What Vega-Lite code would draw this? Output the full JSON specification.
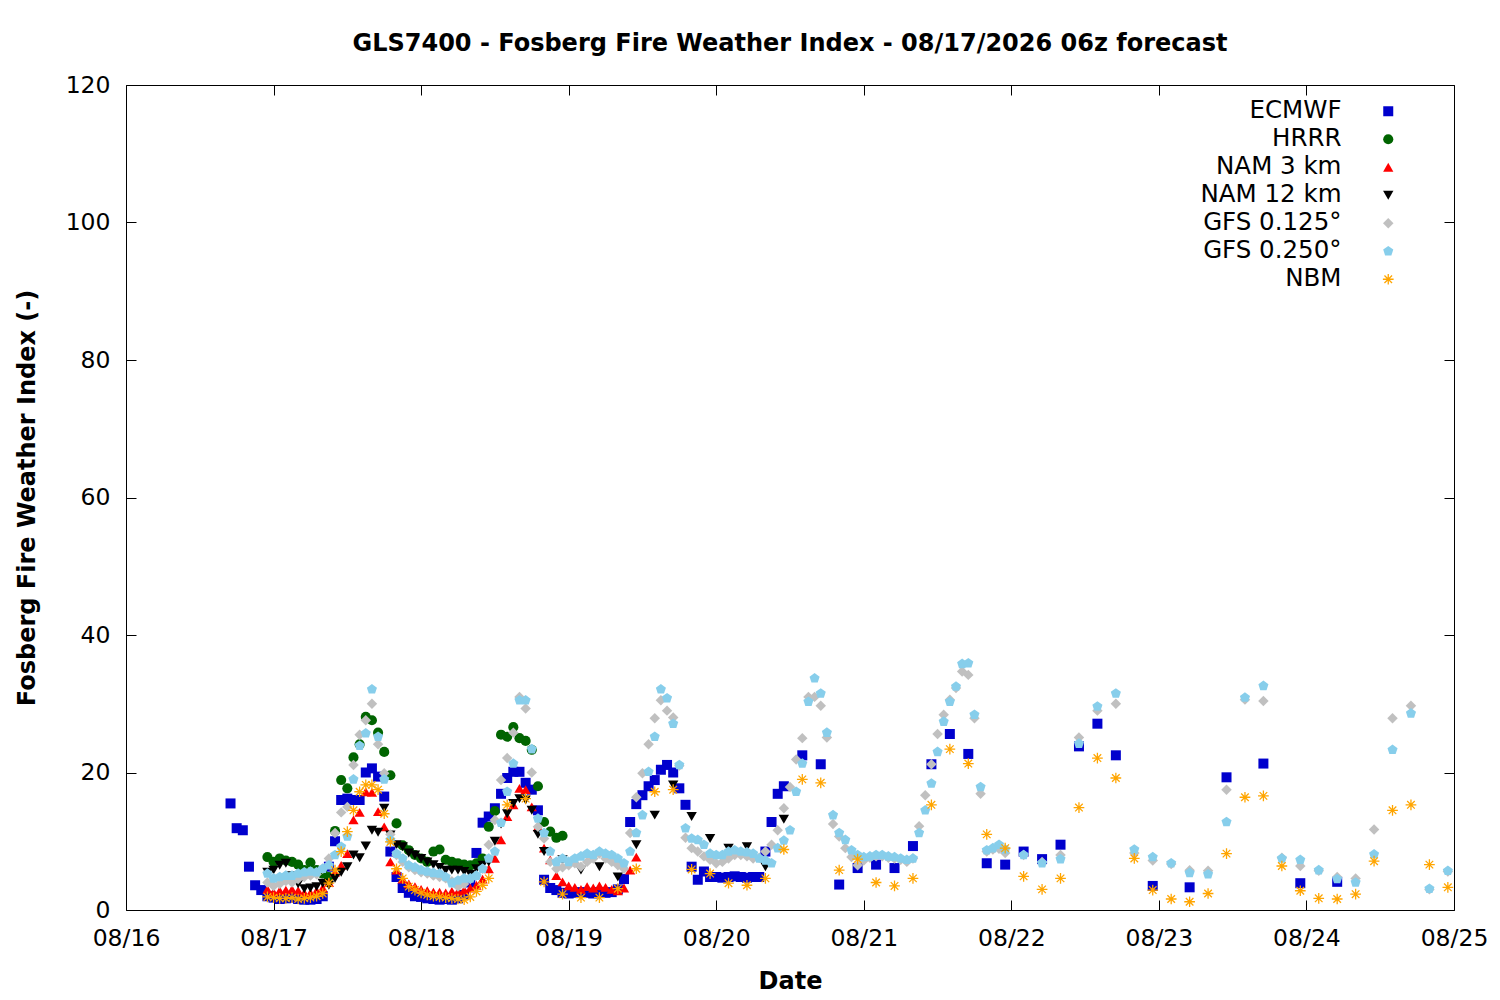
{
  "$schema": "https://vega.github.io/schema/vega-lite/v6.json",
  "width": 1328,
  "height": 825,
  "autosize": {"type": "none"},
  "padding": {"left": 126, "top": 85, "right": 46, "bottom": 90},
  "background": "white",
  "config": {
    "font": "DejaVu Sans",
    "view": {"stroke": "black", "strokeWidth": 1},
    "axis": {
      "domain": false,
      "grid": false,
      "tickColor": "black",
      "tickSize": -10,
      "labelColor": "black",
      "labelFontSize": 23.5,
      "titleColor": "black",
      "titleFontSize": 24,
      "titleFontWeight": "bold"
    },
    "legend": {
      "orient": "none",
      "legendX": 1250,
      "legendY": 14,
      "padding": 0,
      "labelFontSize": 24.5,
      "labelColor": "black",
      "labelAlign": "right",
      "labelOffset": -59,
      "labelLimit": 0,
      "symbolSize": 90,
      "rowPadding": 3
    }
  },
  "title": {
    "text": "GLS7400 - Fosberg Fire Weather Index - 08/17/2026 06z forecast",
    "fontSize": 24,
    "fontWeight": "bold",
    "color": "black",
    "anchor": "middle",
    "offset": 17
  },
  "resolve": {"axis": {"x": "independent", "y": "independent"}},
  "data": {
    "format": {"parse": {"time": "utc:'%Y-%m-%d %H'"}},
    "values": [
      {"model": "ECMWF", "time": "2026-08-16 17", "fwi": 15.5},
      {"model": "ECMWF", "time": "2026-08-16 18", "fwi": 11.9},
      {"model": "ECMWF", "time": "2026-08-16 19", "fwi": 11.6},
      {"model": "ECMWF", "time": "2026-08-16 20", "fwi": 6.3},
      {"model": "ECMWF", "time": "2026-08-16 21", "fwi": 3.6},
      {"model": "ECMWF", "time": "2026-08-16 22", "fwi": 2.9},
      {"model": "ECMWF", "time": "2026-08-16 23", "fwi": 2.0},
      {"model": "ECMWF", "time": "2026-08-17 00", "fwi": 1.8},
      {"model": "ECMWF", "time": "2026-08-17 01", "fwi": 1.6},
      {"model": "ECMWF", "time": "2026-08-17 02", "fwi": 1.7},
      {"model": "ECMWF", "time": "2026-08-17 03", "fwi": 1.8},
      {"model": "ECMWF", "time": "2026-08-17 04", "fwi": 1.6},
      {"model": "ECMWF", "time": "2026-08-17 05", "fwi": 1.5},
      {"model": "ECMWF", "time": "2026-08-17 06", "fwi": 1.5},
      {"model": "ECMWF", "time": "2026-08-17 07", "fwi": 1.6},
      {"model": "ECMWF", "time": "2026-08-17 08", "fwi": 2.0},
      {"model": "ECMWF", "time": "2026-08-17 09", "fwi": 6.3},
      {"model": "ECMWF", "time": "2026-08-17 10", "fwi": 10.0},
      {"model": "ECMWF", "time": "2026-08-17 11", "fwi": 16.0},
      {"model": "ECMWF", "time": "2026-08-17 12", "fwi": 16.2},
      {"model": "ECMWF", "time": "2026-08-17 13", "fwi": 16.0},
      {"model": "ECMWF", "time": "2026-08-17 14", "fwi": 16.0},
      {"model": "ECMWF", "time": "2026-08-17 15", "fwi": 20.0},
      {"model": "ECMWF", "time": "2026-08-17 16", "fwi": 20.6},
      {"model": "ECMWF", "time": "2026-08-17 17", "fwi": 19.4},
      {"model": "ECMWF", "time": "2026-08-17 18", "fwi": 16.5},
      {"model": "ECMWF", "time": "2026-08-17 19", "fwi": 8.5},
      {"model": "ECMWF", "time": "2026-08-17 20", "fwi": 4.8},
      {"model": "ECMWF", "time": "2026-08-17 21", "fwi": 3.2},
      {"model": "ECMWF", "time": "2026-08-17 22", "fwi": 2.5},
      {"model": "ECMWF", "time": "2026-08-17 23", "fwi": 2.0},
      {"model": "ECMWF", "time": "2026-08-18 00", "fwi": 1.9},
      {"model": "ECMWF", "time": "2026-08-18 01", "fwi": 1.7},
      {"model": "ECMWF", "time": "2026-08-18 02", "fwi": 1.6},
      {"model": "ECMWF", "time": "2026-08-18 03", "fwi": 1.5},
      {"model": "ECMWF", "time": "2026-08-18 04", "fwi": 1.6},
      {"model": "ECMWF", "time": "2026-08-18 05", "fwi": 1.5},
      {"model": "ECMWF", "time": "2026-08-18 06", "fwi": 1.7},
      {"model": "ECMWF", "time": "2026-08-18 07", "fwi": 2.2},
      {"model": "ECMWF", "time": "2026-08-18 08", "fwi": 4.0},
      {"model": "ECMWF", "time": "2026-08-18 09", "fwi": 8.3},
      {"model": "ECMWF", "time": "2026-08-18 10", "fwi": 12.7},
      {"model": "ECMWF", "time": "2026-08-18 11", "fwi": 13.6},
      {"model": "ECMWF", "time": "2026-08-18 12", "fwi": 14.8},
      {"model": "ECMWF", "time": "2026-08-18 13", "fwi": 16.9},
      {"model": "ECMWF", "time": "2026-08-18 14", "fwi": 19.2},
      {"model": "ECMWF", "time": "2026-08-18 15", "fwi": 20.1},
      {"model": "ECMWF", "time": "2026-08-18 16", "fwi": 20.1},
      {"model": "ECMWF", "time": "2026-08-18 17", "fwi": 18.5},
      {"model": "ECMWF", "time": "2026-08-18 18", "fwi": 17.5},
      {"model": "ECMWF", "time": "2026-08-18 19", "fwi": 14.5},
      {"model": "ECMWF", "time": "2026-08-18 20", "fwi": 4.4},
      {"model": "ECMWF", "time": "2026-08-18 21", "fwi": 3.2},
      {"model": "ECMWF", "time": "2026-08-18 22", "fwi": 2.9},
      {"model": "ECMWF", "time": "2026-08-18 23", "fwi": 2.5},
      {"model": "ECMWF", "time": "2026-08-19 00", "fwi": 2.4},
      {"model": "ECMWF", "time": "2026-08-19 01", "fwi": 2.5},
      {"model": "ECMWF", "time": "2026-08-19 02", "fwi": 2.6},
      {"model": "ECMWF", "time": "2026-08-19 03", "fwi": 2.5},
      {"model": "ECMWF", "time": "2026-08-19 04", "fwi": 2.4},
      {"model": "ECMWF", "time": "2026-08-19 05", "fwi": 2.6},
      {"model": "ECMWF", "time": "2026-08-19 06", "fwi": 2.5},
      {"model": "ECMWF", "time": "2026-08-19 07", "fwi": 2.6},
      {"model": "ECMWF", "time": "2026-08-19 08", "fwi": 3.0},
      {"model": "ECMWF", "time": "2026-08-19 09", "fwi": 4.5},
      {"model": "ECMWF", "time": "2026-08-19 10", "fwi": 12.8},
      {"model": "ECMWF", "time": "2026-08-19 11", "fwi": 15.4},
      {"model": "ECMWF", "time": "2026-08-19 12", "fwi": 16.7},
      {"model": "ECMWF", "time": "2026-08-19 13", "fwi": 18.0},
      {"model": "ECMWF", "time": "2026-08-19 14", "fwi": 18.9},
      {"model": "ECMWF", "time": "2026-08-19 15", "fwi": 20.4},
      {"model": "ECMWF", "time": "2026-08-19 16", "fwi": 21.1},
      {"model": "ECMWF", "time": "2026-08-19 17", "fwi": 20.0},
      {"model": "ECMWF", "time": "2026-08-19 18", "fwi": 17.7},
      {"model": "ECMWF", "time": "2026-08-19 19", "fwi": 15.3},
      {"model": "ECMWF", "time": "2026-08-19 20", "fwi": 6.3},
      {"model": "ECMWF", "time": "2026-08-19 21", "fwi": 4.4},
      {"model": "ECMWF", "time": "2026-08-19 22", "fwi": 5.6},
      {"model": "ECMWF", "time": "2026-08-19 23", "fwi": 4.8},
      {"model": "ECMWF", "time": "2026-08-20 00", "fwi": 4.8},
      {"model": "ECMWF", "time": "2026-08-20 01", "fwi": 4.7},
      {"model": "ECMWF", "time": "2026-08-20 02", "fwi": 4.8},
      {"model": "ECMWF", "time": "2026-08-20 03", "fwi": 4.9},
      {"model": "ECMWF", "time": "2026-08-20 04", "fwi": 4.8},
      {"model": "ECMWF", "time": "2026-08-20 05", "fwi": 4.7},
      {"model": "ECMWF", "time": "2026-08-20 06", "fwi": 4.8},
      {"model": "ECMWF", "time": "2026-08-20 07", "fwi": 4.8},
      {"model": "ECMWF", "time": "2026-08-20 08", "fwi": 8.5},
      {"model": "ECMWF", "time": "2026-08-20 09", "fwi": 12.8},
      {"model": "ECMWF", "time": "2026-08-20 10", "fwi": 16.9},
      {"model": "ECMWF", "time": "2026-08-20 11", "fwi": 18.0},
      {"model": "ECMWF", "time": "2026-08-20 14", "fwi": 22.5},
      {"model": "ECMWF", "time": "2026-08-20 17", "fwi": 21.2},
      {"model": "ECMWF", "time": "2026-08-20 20", "fwi": 3.7},
      {"model": "ECMWF", "time": "2026-08-20 23", "fwi": 6.1},
      {"model": "ECMWF", "time": "2026-08-21 02", "fwi": 6.6},
      {"model": "ECMWF", "time": "2026-08-21 05", "fwi": 6.1},
      {"model": "ECMWF", "time": "2026-08-21 08", "fwi": 9.3},
      {"model": "ECMWF", "time": "2026-08-21 11", "fwi": 21.2},
      {"model": "ECMWF", "time": "2026-08-21 14", "fwi": 25.6},
      {"model": "ECMWF", "time": "2026-08-21 17", "fwi": 22.7},
      {"model": "ECMWF", "time": "2026-08-21 20", "fwi": 6.8},
      {"model": "ECMWF", "time": "2026-08-21 23", "fwi": 6.6},
      {"model": "ECMWF", "time": "2026-08-22 02", "fwi": 8.5},
      {"model": "ECMWF", "time": "2026-08-22 05", "fwi": 7.4},
      {"model": "ECMWF", "time": "2026-08-22 08", "fwi": 9.5},
      {"model": "ECMWF", "time": "2026-08-22 11", "fwi": 23.8},
      {"model": "ECMWF", "time": "2026-08-22 14", "fwi": 27.1},
      {"model": "ECMWF", "time": "2026-08-22 17", "fwi": 22.5},
      {"model": "ECMWF", "time": "2026-08-22 23", "fwi": 3.5},
      {"model": "ECMWF", "time": "2026-08-23 05", "fwi": 3.3},
      {"model": "ECMWF", "time": "2026-08-23 11", "fwi": 19.3},
      {"model": "ECMWF", "time": "2026-08-23 17", "fwi": 21.3},
      {"model": "ECMWF", "time": "2026-08-23 23", "fwi": 3.9},
      {"model": "ECMWF", "time": "2026-08-24 05", "fwi": 4.1},

      {"model": "HRRR", "time": "2026-08-16 23", "fwi": 7.7},
      {"model": "HRRR", "time": "2026-08-17 00", "fwi": 7.0},
      {"model": "HRRR", "time": "2026-08-17 01", "fwi": 7.5},
      {"model": "HRRR", "time": "2026-08-17 02", "fwi": 7.2},
      {"model": "HRRR", "time": "2026-08-17 03", "fwi": 7.0},
      {"model": "HRRR", "time": "2026-08-17 04", "fwi": 6.6},
      {"model": "HRRR", "time": "2026-08-17 05", "fwi": 5.8},
      {"model": "HRRR", "time": "2026-08-17 06", "fwi": 6.9},
      {"model": "HRRR", "time": "2026-08-17 07", "fwi": 5.8},
      {"model": "HRRR", "time": "2026-08-17 08", "fwi": 5.3},
      {"model": "HRRR", "time": "2026-08-17 09", "fwi": 4.8},
      {"model": "HRRR", "time": "2026-08-17 10", "fwi": 11.5},
      {"model": "HRRR", "time": "2026-08-17 11", "fwi": 18.9},
      {"model": "HRRR", "time": "2026-08-17 12", "fwi": 17.7},
      {"model": "HRRR", "time": "2026-08-17 13", "fwi": 22.2},
      {"model": "HRRR", "time": "2026-08-17 14", "fwi": 24.1},
      {"model": "HRRR", "time": "2026-08-17 15", "fwi": 28.1},
      {"model": "HRRR", "time": "2026-08-17 16", "fwi": 27.6},
      {"model": "HRRR", "time": "2026-08-17 17", "fwi": 25.8},
      {"model": "HRRR", "time": "2026-08-17 18", "fwi": 23.0},
      {"model": "HRRR", "time": "2026-08-17 19", "fwi": 19.6},
      {"model": "HRRR", "time": "2026-08-17 20", "fwi": 12.6},
      {"model": "HRRR", "time": "2026-08-17 21", "fwi": 9.4},
      {"model": "HRRR", "time": "2026-08-17 22", "fwi": 8.7},
      {"model": "HRRR", "time": "2026-08-17 23", "fwi": 8.0},
      {"model": "HRRR", "time": "2026-08-18 00", "fwi": 7.5},
      {"model": "HRRR", "time": "2026-08-18 01", "fwi": 7.0},
      {"model": "HRRR", "time": "2026-08-18 02", "fwi": 8.5},
      {"model": "HRRR", "time": "2026-08-18 03", "fwi": 8.8},
      {"model": "HRRR", "time": "2026-08-18 04", "fwi": 7.3},
      {"model": "HRRR", "time": "2026-08-18 05", "fwi": 7.0},
      {"model": "HRRR", "time": "2026-08-18 06", "fwi": 6.8},
      {"model": "HRRR", "time": "2026-08-18 07", "fwi": 6.6},
      {"model": "HRRR", "time": "2026-08-18 08", "fwi": 6.5},
      {"model": "HRRR", "time": "2026-08-18 09", "fwi": 6.8},
      {"model": "HRRR", "time": "2026-08-18 10", "fwi": 7.5},
      {"model": "HRRR", "time": "2026-08-18 11", "fwi": 12.1},
      {"model": "HRRR", "time": "2026-08-18 12", "fwi": 14.4},
      {"model": "HRRR", "time": "2026-08-18 13", "fwi": 25.5},
      {"model": "HRRR", "time": "2026-08-18 14", "fwi": 25.2},
      {"model": "HRRR", "time": "2026-08-18 15", "fwi": 26.6},
      {"model": "HRRR", "time": "2026-08-18 16", "fwi": 25.0},
      {"model": "HRRR", "time": "2026-08-18 17", "fwi": 24.6},
      {"model": "HRRR", "time": "2026-08-18 18", "fwi": 23.3},
      {"model": "HRRR", "time": "2026-08-18 19", "fwi": 18.0},
      {"model": "HRRR", "time": "2026-08-18 20", "fwi": 12.8},
      {"model": "HRRR", "time": "2026-08-18 21", "fwi": 11.4},
      {"model": "HRRR", "time": "2026-08-18 22", "fwi": 10.5},
      {"model": "HRRR", "time": "2026-08-18 23", "fwi": 10.8},

      {"model": "NAM 3 km", "time": "2026-08-16 23", "fwi": 3.0},
      {"model": "NAM 3 km", "time": "2026-08-17 00", "fwi": 2.6},
      {"model": "NAM 3 km", "time": "2026-08-17 01", "fwi": 2.8},
      {"model": "NAM 3 km", "time": "2026-08-17 02", "fwi": 2.9},
      {"model": "NAM 3 km", "time": "2026-08-17 03", "fwi": 3.0},
      {"model": "NAM 3 km", "time": "2026-08-17 04", "fwi": 2.8},
      {"model": "NAM 3 km", "time": "2026-08-17 05", "fwi": 2.5},
      {"model": "NAM 3 km", "time": "2026-08-17 06", "fwi": 2.5},
      {"model": "NAM 3 km", "time": "2026-08-17 07", "fwi": 2.8},
      {"model": "NAM 3 km", "time": "2026-08-17 08", "fwi": 3.2},
      {"model": "NAM 3 km", "time": "2026-08-17 09", "fwi": 4.0},
      {"model": "NAM 3 km", "time": "2026-08-17 10", "fwi": 5.5},
      {"model": "NAM 3 km", "time": "2026-08-17 11", "fwi": 6.5},
      {"model": "NAM 3 km", "time": "2026-08-17 12", "fwi": 8.2},
      {"model": "NAM 3 km", "time": "2026-08-17 13", "fwi": 13.1},
      {"model": "NAM 3 km", "time": "2026-08-17 14", "fwi": 14.2},
      {"model": "NAM 3 km", "time": "2026-08-17 15", "fwi": 17.2},
      {"model": "NAM 3 km", "time": "2026-08-17 16", "fwi": 17.1},
      {"model": "NAM 3 km", "time": "2026-08-17 17", "fwi": 14.3},
      {"model": "NAM 3 km", "time": "2026-08-17 18", "fwi": 12.1},
      {"model": "NAM 3 km", "time": "2026-08-17 19", "fwi": 7.0},
      {"model": "NAM 3 km", "time": "2026-08-17 20", "fwi": 5.8},
      {"model": "NAM 3 km", "time": "2026-08-17 21", "fwi": 4.5},
      {"model": "NAM 3 km", "time": "2026-08-17 22", "fwi": 3.8},
      {"model": "NAM 3 km", "time": "2026-08-17 23", "fwi": 3.4},
      {"model": "NAM 3 km", "time": "2026-08-18 00", "fwi": 3.0},
      {"model": "NAM 3 km", "time": "2026-08-18 01", "fwi": 2.8},
      {"model": "NAM 3 km", "time": "2026-08-18 02", "fwi": 2.6},
      {"model": "NAM 3 km", "time": "2026-08-18 03", "fwi": 2.6},
      {"model": "NAM 3 km", "time": "2026-08-18 04", "fwi": 2.5},
      {"model": "NAM 3 km", "time": "2026-08-18 05", "fwi": 2.7},
      {"model": "NAM 3 km", "time": "2026-08-18 06", "fwi": 2.7},
      {"model": "NAM 3 km", "time": "2026-08-18 07", "fwi": 2.9},
      {"model": "NAM 3 km", "time": "2026-08-18 08", "fwi": 3.2},
      {"model": "NAM 3 km", "time": "2026-08-18 09", "fwi": 3.6},
      {"model": "NAM 3 km", "time": "2026-08-18 10", "fwi": 4.5},
      {"model": "NAM 3 km", "time": "2026-08-18 11", "fwi": 6.0},
      {"model": "NAM 3 km", "time": "2026-08-18 12", "fwi": 7.5},
      {"model": "NAM 3 km", "time": "2026-08-18 13", "fwi": 10.2},
      {"model": "NAM 3 km", "time": "2026-08-18 14", "fwi": 13.6},
      {"model": "NAM 3 km", "time": "2026-08-18 15", "fwi": 15.3},
      {"model": "NAM 3 km", "time": "2026-08-18 16", "fwi": 17.7},
      {"model": "NAM 3 km", "time": "2026-08-18 17", "fwi": 17.5},
      {"model": "NAM 3 km", "time": "2026-08-18 18", "fwi": 15.0},
      {"model": "NAM 3 km", "time": "2026-08-18 19", "fwi": 12.1},
      {"model": "NAM 3 km", "time": "2026-08-18 20", "fwi": 9.0},
      {"model": "NAM 3 km", "time": "2026-08-18 21", "fwi": 7.3},
      {"model": "NAM 3 km", "time": "2026-08-18 22", "fwi": 5.0},
      {"model": "NAM 3 km", "time": "2026-08-18 23", "fwi": 4.1},
      {"model": "NAM 3 km", "time": "2026-08-19 00", "fwi": 3.5},
      {"model": "NAM 3 km", "time": "2026-08-19 01", "fwi": 3.3},
      {"model": "NAM 3 km", "time": "2026-08-19 02", "fwi": 3.0},
      {"model": "NAM 3 km", "time": "2026-08-19 03", "fwi": 3.4},
      {"model": "NAM 3 km", "time": "2026-08-19 04", "fwi": 3.2},
      {"model": "NAM 3 km", "time": "2026-08-19 05", "fwi": 3.5},
      {"model": "NAM 3 km", "time": "2026-08-19 06", "fwi": 3.3},
      {"model": "NAM 3 km", "time": "2026-08-19 07", "fwi": 3.0},
      {"model": "NAM 3 km", "time": "2026-08-19 08", "fwi": 2.8},
      {"model": "NAM 3 km", "time": "2026-08-19 09", "fwi": 3.2},
      {"model": "NAM 3 km", "time": "2026-08-19 10", "fwi": 5.8},
      {"model": "NAM 3 km", "time": "2026-08-19 11", "fwi": 7.7},

      {"model": "NAM 12 km", "time": "2026-08-16 23", "fwi": 5.5},
      {"model": "NAM 12 km", "time": "2026-08-17 00", "fwi": 5.8},
      {"model": "NAM 12 km", "time": "2026-08-17 01", "fwi": 6.5},
      {"model": "NAM 12 km", "time": "2026-08-17 02", "fwi": 6.8},
      {"model": "NAM 12 km", "time": "2026-08-17 03", "fwi": 5.0},
      {"model": "NAM 12 km", "time": "2026-08-17 04", "fwi": 3.8},
      {"model": "NAM 12 km", "time": "2026-08-17 05", "fwi": 3.1},
      {"model": "NAM 12 km", "time": "2026-08-17 06", "fwi": 3.2},
      {"model": "NAM 12 km", "time": "2026-08-17 07", "fwi": 3.4},
      {"model": "NAM 12 km", "time": "2026-08-17 08", "fwi": 3.9},
      {"model": "NAM 12 km", "time": "2026-08-17 09", "fwi": 3.6},
      {"model": "NAM 12 km", "time": "2026-08-17 10", "fwi": 4.6},
      {"model": "NAM 12 km", "time": "2026-08-17 11", "fwi": 5.5},
      {"model": "NAM 12 km", "time": "2026-08-17 12", "fwi": 6.3},
      {"model": "NAM 12 km", "time": "2026-08-17 13", "fwi": 8.0},
      {"model": "NAM 12 km", "time": "2026-08-17 14", "fwi": 7.6},
      {"model": "NAM 12 km", "time": "2026-08-17 15", "fwi": 9.3},
      {"model": "NAM 12 km", "time": "2026-08-17 16", "fwi": 11.6},
      {"model": "NAM 12 km", "time": "2026-08-17 17", "fwi": 11.3},
      {"model": "NAM 12 km", "time": "2026-08-17 18", "fwi": 14.8},
      {"model": "NAM 12 km", "time": "2026-08-17 19", "fwi": 10.9},
      {"model": "NAM 12 km", "time": "2026-08-17 20", "fwi": 9.5},
      {"model": "NAM 12 km", "time": "2026-08-17 21", "fwi": 9.2},
      {"model": "NAM 12 km", "time": "2026-08-17 22", "fwi": 8.3},
      {"model": "NAM 12 km", "time": "2026-08-17 23", "fwi": 8.0},
      {"model": "NAM 12 km", "time": "2026-08-18 00", "fwi": 7.5},
      {"model": "NAM 12 km", "time": "2026-08-18 01", "fwi": 7.0},
      {"model": "NAM 12 km", "time": "2026-08-18 02", "fwi": 6.6},
      {"model": "NAM 12 km", "time": "2026-08-18 03", "fwi": 6.2},
      {"model": "NAM 12 km", "time": "2026-08-18 04", "fwi": 5.8},
      {"model": "NAM 12 km", "time": "2026-08-18 05", "fwi": 5.8},
      {"model": "NAM 12 km", "time": "2026-08-18 06", "fwi": 5.8},
      {"model": "NAM 12 km", "time": "2026-08-18 07", "fwi": 5.6},
      {"model": "NAM 12 km", "time": "2026-08-18 08", "fwi": 5.2},
      {"model": "NAM 12 km", "time": "2026-08-18 09", "fwi": 6.0},
      {"model": "NAM 12 km", "time": "2026-08-18 10", "fwi": 6.5},
      {"model": "NAM 12 km", "time": "2026-08-18 11", "fwi": 7.0},
      {"model": "NAM 12 km", "time": "2026-08-18 12", "fwi": 10.0},
      {"model": "NAM 12 km", "time": "2026-08-18 13", "fwi": 12.5},
      {"model": "NAM 12 km", "time": "2026-08-18 14", "fwi": 14.0},
      {"model": "NAM 12 km", "time": "2026-08-18 15", "fwi": 15.5},
      {"model": "NAM 12 km", "time": "2026-08-18 16", "fwi": 16.2},
      {"model": "NAM 12 km", "time": "2026-08-18 17", "fwi": 16.0},
      {"model": "NAM 12 km", "time": "2026-08-18 18", "fwi": 14.5},
      {"model": "NAM 12 km", "time": "2026-08-18 19", "fwi": 11.0},
      {"model": "NAM 12 km", "time": "2026-08-18 20", "fwi": 8.5},
      {"model": "NAM 12 km", "time": "2026-08-18 23", "fwi": 7.3},
      {"model": "NAM 12 km", "time": "2026-08-19 02", "fwi": 5.8},
      {"model": "NAM 12 km", "time": "2026-08-19 05", "fwi": 6.3},
      {"model": "NAM 12 km", "time": "2026-08-19 08", "fwi": 4.8},
      {"model": "NAM 12 km", "time": "2026-08-19 11", "fwi": 9.5},
      {"model": "NAM 12 km", "time": "2026-08-19 14", "fwi": 13.8},
      {"model": "NAM 12 km", "time": "2026-08-19 17", "fwi": 18.2},
      {"model": "NAM 12 km", "time": "2026-08-19 20", "fwi": 13.6},
      {"model": "NAM 12 km", "time": "2026-08-19 23", "fwi": 10.4},
      {"model": "NAM 12 km", "time": "2026-08-20 02", "fwi": 9.0},
      {"model": "NAM 12 km", "time": "2026-08-20 05", "fwi": 9.2},
      {"model": "NAM 12 km", "time": "2026-08-20 08", "fwi": 6.3},
      {"model": "NAM 12 km", "time": "2026-08-20 11", "fwi": 13.2},

      {"model": "GFS 0.125°", "time": "2026-08-16 23", "fwi": 4.0},
      {"model": "GFS 0.125°", "time": "2026-08-17 00", "fwi": 3.5},
      {"model": "GFS 0.125°", "time": "2026-08-17 01", "fwi": 3.8},
      {"model": "GFS 0.125°", "time": "2026-08-17 02", "fwi": 4.2},
      {"model": "GFS 0.125°", "time": "2026-08-17 03", "fwi": 4.0},
      {"model": "GFS 0.125°", "time": "2026-08-17 04", "fwi": 4.5},
      {"model": "GFS 0.125°", "time": "2026-08-17 05", "fwi": 4.8},
      {"model": "GFS 0.125°", "time": "2026-08-17 06", "fwi": 5.0},
      {"model": "GFS 0.125°", "time": "2026-08-17 07", "fwi": 5.2},
      {"model": "GFS 0.125°", "time": "2026-08-17 08", "fwi": 6.0},
      {"model": "GFS 0.125°", "time": "2026-08-17 09", "fwi": 7.5},
      {"model": "GFS 0.125°", "time": "2026-08-17 10", "fwi": 11.2},
      {"model": "GFS 0.125°", "time": "2026-08-17 11", "fwi": 14.2},
      {"model": "GFS 0.125°", "time": "2026-08-17 12", "fwi": 15.0},
      {"model": "GFS 0.125°", "time": "2026-08-17 13", "fwi": 21.1},
      {"model": "GFS 0.125°", "time": "2026-08-17 14", "fwi": 25.5},
      {"model": "GFS 0.125°", "time": "2026-08-17 15", "fwi": 27.6},
      {"model": "GFS 0.125°", "time": "2026-08-17 16", "fwi": 30.0},
      {"model": "GFS 0.125°", "time": "2026-08-17 17", "fwi": 24.1},
      {"model": "GFS 0.125°", "time": "2026-08-17 18", "fwi": 19.9},
      {"model": "GFS 0.125°", "time": "2026-08-17 19", "fwi": 11.0},
      {"model": "GFS 0.125°", "time": "2026-08-17 20", "fwi": 8.0},
      {"model": "GFS 0.125°", "time": "2026-08-17 21", "fwi": 7.0},
      {"model": "GFS 0.125°", "time": "2026-08-17 22", "fwi": 6.2},
      {"model": "GFS 0.125°", "time": "2026-08-17 23", "fwi": 5.8},
      {"model": "GFS 0.125°", "time": "2026-08-18 00", "fwi": 5.5},
      {"model": "GFS 0.125°", "time": "2026-08-18 01", "fwi": 5.3},
      {"model": "GFS 0.125°", "time": "2026-08-18 02", "fwi": 5.0},
      {"model": "GFS 0.125°", "time": "2026-08-18 03", "fwi": 4.8},
      {"model": "GFS 0.125°", "time": "2026-08-18 04", "fwi": 4.6},
      {"model": "GFS 0.125°", "time": "2026-08-18 05", "fwi": 4.2},
      {"model": "GFS 0.125°", "time": "2026-08-18 06", "fwi": 3.4},
      {"model": "GFS 0.125°", "time": "2026-08-18 07", "fwi": 3.8},
      {"model": "GFS 0.125°", "time": "2026-08-18 08", "fwi": 4.5},
      {"model": "GFS 0.125°", "time": "2026-08-18 09", "fwi": 5.0},
      {"model": "GFS 0.125°", "time": "2026-08-18 10", "fwi": 6.0},
      {"model": "GFS 0.125°", "time": "2026-08-18 11", "fwi": 9.5},
      {"model": "GFS 0.125°", "time": "2026-08-18 12", "fwi": 13.1},
      {"model": "GFS 0.125°", "time": "2026-08-18 13", "fwi": 18.9},
      {"model": "GFS 0.125°", "time": "2026-08-18 14", "fwi": 22.1},
      {"model": "GFS 0.125°", "time": "2026-08-18 15", "fwi": 25.8},
      {"model": "GFS 0.125°", "time": "2026-08-18 16", "fwi": 31.0},
      {"model": "GFS 0.125°", "time": "2026-08-18 17", "fwi": 29.3},
      {"model": "GFS 0.125°", "time": "2026-08-18 18", "fwi": 20.0},
      {"model": "GFS 0.125°", "time": "2026-08-18 19", "fwi": 12.1},
      {"model": "GFS 0.125°", "time": "2026-08-18 20", "fwi": 10.4},
      {"model": "GFS 0.125°", "time": "2026-08-18 21", "fwi": 7.0},
      {"model": "GFS 0.125°", "time": "2026-08-18 22", "fwi": 6.0},
      {"model": "GFS 0.125°", "time": "2026-08-18 23", "fwi": 6.2},
      {"model": "GFS 0.125°", "time": "2026-08-19 00", "fwi": 6.5},
      {"model": "GFS 0.125°", "time": "2026-08-19 01", "fwi": 6.8},
      {"model": "GFS 0.125°", "time": "2026-08-19 02", "fwi": 6.3},
      {"model": "GFS 0.125°", "time": "2026-08-19 03", "fwi": 7.0},
      {"model": "GFS 0.125°", "time": "2026-08-19 04", "fwi": 7.5},
      {"model": "GFS 0.125°", "time": "2026-08-19 05", "fwi": 8.2},
      {"model": "GFS 0.125°", "time": "2026-08-19 06", "fwi": 7.5},
      {"model": "GFS 0.125°", "time": "2026-08-19 07", "fwi": 7.0},
      {"model": "GFS 0.125°", "time": "2026-08-19 08", "fwi": 6.5},
      {"model": "GFS 0.125°", "time": "2026-08-19 09", "fwi": 6.0},
      {"model": "GFS 0.125°", "time": "2026-08-19 10", "fwi": 11.2},
      {"model": "GFS 0.125°", "time": "2026-08-19 11", "fwi": 16.4},
      {"model": "GFS 0.125°", "time": "2026-08-19 12", "fwi": 19.9},
      {"model": "GFS 0.125°", "time": "2026-08-19 13", "fwi": 24.1},
      {"model": "GFS 0.125°", "time": "2026-08-19 14", "fwi": 27.9},
      {"model": "GFS 0.125°", "time": "2026-08-19 15", "fwi": 30.5},
      {"model": "GFS 0.125°", "time": "2026-08-19 16", "fwi": 29.0},
      {"model": "GFS 0.125°", "time": "2026-08-19 17", "fwi": 28.0},
      {"model": "GFS 0.125°", "time": "2026-08-19 18", "fwi": 21.0},
      {"model": "GFS 0.125°", "time": "2026-08-19 19", "fwi": 10.5},
      {"model": "GFS 0.125°", "time": "2026-08-19 20", "fwi": 9.0},
      {"model": "GFS 0.125°", "time": "2026-08-19 21", "fwi": 8.5},
      {"model": "GFS 0.125°", "time": "2026-08-19 22", "fwi": 7.8},
      {"model": "GFS 0.125°", "time": "2026-08-19 23", "fwi": 7.3},
      {"model": "GFS 0.125°", "time": "2026-08-20 00", "fwi": 6.8},
      {"model": "GFS 0.125°", "time": "2026-08-20 01", "fwi": 7.0},
      {"model": "GFS 0.125°", "time": "2026-08-20 02", "fwi": 7.5},
      {"model": "GFS 0.125°", "time": "2026-08-20 03", "fwi": 8.0},
      {"model": "GFS 0.125°", "time": "2026-08-20 04", "fwi": 8.0},
      {"model": "GFS 0.125°", "time": "2026-08-20 05", "fwi": 7.8},
      {"model": "GFS 0.125°", "time": "2026-08-20 06", "fwi": 7.5},
      {"model": "GFS 0.125°", "time": "2026-08-20 07", "fwi": 7.6},
      {"model": "GFS 0.125°", "time": "2026-08-20 08", "fwi": 8.5},
      {"model": "GFS 0.125°", "time": "2026-08-20 09", "fwi": 9.5},
      {"model": "GFS 0.125°", "time": "2026-08-20 10", "fwi": 11.6},
      {"model": "GFS 0.125°", "time": "2026-08-20 11", "fwi": 14.8},
      {"model": "GFS 0.125°", "time": "2026-08-20 12", "fwi": 17.9},
      {"model": "GFS 0.125°", "time": "2026-08-20 13", "fwi": 21.9},
      {"model": "GFS 0.125°", "time": "2026-08-20 14", "fwi": 25.0},
      {"model": "GFS 0.125°", "time": "2026-08-20 15", "fwi": 31.0},
      {"model": "GFS 0.125°", "time": "2026-08-20 16", "fwi": 31.0},
      {"model": "GFS 0.125°", "time": "2026-08-20 17", "fwi": 29.7},
      {"model": "GFS 0.125°", "time": "2026-08-20 18", "fwi": 25.1},
      {"model": "GFS 0.125°", "time": "2026-08-20 19", "fwi": 12.5},
      {"model": "GFS 0.125°", "time": "2026-08-20 20", "fwi": 10.7},
      {"model": "GFS 0.125°", "time": "2026-08-20 21", "fwi": 9.0},
      {"model": "GFS 0.125°", "time": "2026-08-20 22", "fwi": 7.7},
      {"model": "GFS 0.125°", "time": "2026-08-20 23", "fwi": 6.5},
      {"model": "GFS 0.125°", "time": "2026-08-21 00", "fwi": 7.2},
      {"model": "GFS 0.125°", "time": "2026-08-21 01", "fwi": 7.6},
      {"model": "GFS 0.125°", "time": "2026-08-21 02", "fwi": 7.8},
      {"model": "GFS 0.125°", "time": "2026-08-21 03", "fwi": 7.8},
      {"model": "GFS 0.125°", "time": "2026-08-21 04", "fwi": 7.6},
      {"model": "GFS 0.125°", "time": "2026-08-21 05", "fwi": 7.5},
      {"model": "GFS 0.125°", "time": "2026-08-21 06", "fwi": 7.3},
      {"model": "GFS 0.125°", "time": "2026-08-21 07", "fwi": 7.0},
      {"model": "GFS 0.125°", "time": "2026-08-21 08", "fwi": 7.5},
      {"model": "GFS 0.125°", "time": "2026-08-21 09", "fwi": 12.2},
      {"model": "GFS 0.125°", "time": "2026-08-21 10", "fwi": 16.7},
      {"model": "GFS 0.125°", "time": "2026-08-21 11", "fwi": 21.2},
      {"model": "GFS 0.125°", "time": "2026-08-21 12", "fwi": 25.6},
      {"model": "GFS 0.125°", "time": "2026-08-21 13", "fwi": 28.4},
      {"model": "GFS 0.125°", "time": "2026-08-21 14", "fwi": 30.6},
      {"model": "GFS 0.125°", "time": "2026-08-21 15", "fwi": 32.3},
      {"model": "GFS 0.125°", "time": "2026-08-21 16", "fwi": 34.7},
      {"model": "GFS 0.125°", "time": "2026-08-21 17", "fwi": 34.2},
      {"model": "GFS 0.125°", "time": "2026-08-21 18", "fwi": 27.9},
      {"model": "GFS 0.125°", "time": "2026-08-21 19", "fwi": 16.9},
      {"model": "GFS 0.125°", "time": "2026-08-21 20", "fwi": 8.5},
      {"model": "GFS 0.125°", "time": "2026-08-21 21", "fwi": 8.8},
      {"model": "GFS 0.125°", "time": "2026-08-21 22", "fwi": 8.9},
      {"model": "GFS 0.125°", "time": "2026-08-21 23", "fwi": 8.3},
      {"model": "GFS 0.125°", "time": "2026-08-22 02", "fwi": 8.0},
      {"model": "GFS 0.125°", "time": "2026-08-22 05", "fwi": 7.0},
      {"model": "GFS 0.125°", "time": "2026-08-22 08", "fwi": 8.0},
      {"model": "GFS 0.125°", "time": "2026-08-22 11", "fwi": 25.1},
      {"model": "GFS 0.125°", "time": "2026-08-22 14", "fwi": 29.0},
      {"model": "GFS 0.125°", "time": "2026-08-22 17", "fwi": 30.0},
      {"model": "GFS 0.125°", "time": "2026-08-22 20", "fwi": 8.3},
      {"model": "GFS 0.125°", "time": "2026-08-22 23", "fwi": 7.2},
      {"model": "GFS 0.125°", "time": "2026-08-23 02", "fwi": 6.7},
      {"model": "GFS 0.125°", "time": "2026-08-23 05", "fwi": 5.8},
      {"model": "GFS 0.125°", "time": "2026-08-23 08", "fwi": 5.7},
      {"model": "GFS 0.125°", "time": "2026-08-23 11", "fwi": 17.5},
      {"model": "GFS 0.125°", "time": "2026-08-23 14", "fwi": 30.6},
      {"model": "GFS 0.125°", "time": "2026-08-23 17", "fwi": 30.4},
      {"model": "GFS 0.125°", "time": "2026-08-23 20", "fwi": 7.6},
      {"model": "GFS 0.125°", "time": "2026-08-23 23", "fwi": 6.4},
      {"model": "GFS 0.125°", "time": "2026-08-24 02", "fwi": 5.7},
      {"model": "GFS 0.125°", "time": "2026-08-24 05", "fwi": 4.8},
      {"model": "GFS 0.125°", "time": "2026-08-24 08", "fwi": 4.6},
      {"model": "GFS 0.125°", "time": "2026-08-24 11", "fwi": 11.7},
      {"model": "GFS 0.125°", "time": "2026-08-24 14", "fwi": 27.9},
      {"model": "GFS 0.125°", "time": "2026-08-24 17", "fwi": 29.7},
      {"model": "GFS 0.125°", "time": "2026-08-24 20", "fwi": 3.0},
      {"model": "GFS 0.125°", "time": "2026-08-24 23", "fwi": 5.6},

      {"model": "GFS 0.250°", "time": "2026-08-16 23", "fwi": 5.3},
      {"model": "GFS 0.250°", "time": "2026-08-17 00", "fwi": 4.6},
      {"model": "GFS 0.250°", "time": "2026-08-17 01", "fwi": 4.8},
      {"model": "GFS 0.250°", "time": "2026-08-17 02", "fwi": 5.0},
      {"model": "GFS 0.250°", "time": "2026-08-17 03", "fwi": 5.0},
      {"model": "GFS 0.250°", "time": "2026-08-17 04", "fwi": 5.3},
      {"model": "GFS 0.250°", "time": "2026-08-17 05", "fwi": 5.5},
      {"model": "GFS 0.250°", "time": "2026-08-17 06", "fwi": 5.6},
      {"model": "GFS 0.250°", "time": "2026-08-17 07", "fwi": 5.5},
      {"model": "GFS 0.250°", "time": "2026-08-17 08", "fwi": 6.0},
      {"model": "GFS 0.250°", "time": "2026-08-17 09", "fwi": 6.5},
      {"model": "GFS 0.250°", "time": "2026-08-17 10", "fwi": 8.0},
      {"model": "GFS 0.250°", "time": "2026-08-17 11", "fwi": 9.2},
      {"model": "GFS 0.250°", "time": "2026-08-17 12", "fwi": 10.7},
      {"model": "GFS 0.250°", "time": "2026-08-17 13", "fwi": 19.0},
      {"model": "GFS 0.250°", "time": "2026-08-17 14", "fwi": 23.9},
      {"model": "GFS 0.250°", "time": "2026-08-17 15", "fwi": 25.7},
      {"model": "GFS 0.250°", "time": "2026-08-17 16", "fwi": 32.1},
      {"model": "GFS 0.250°", "time": "2026-08-17 17", "fwi": 25.2},
      {"model": "GFS 0.250°", "time": "2026-08-17 18", "fwi": 19.0},
      {"model": "GFS 0.250°", "time": "2026-08-17 19", "fwi": 10.2},
      {"model": "GFS 0.250°", "time": "2026-08-17 20", "fwi": 8.2},
      {"model": "GFS 0.250°", "time": "2026-08-17 21", "fwi": 7.5},
      {"model": "GFS 0.250°", "time": "2026-08-17 22", "fwi": 6.5},
      {"model": "GFS 0.250°", "time": "2026-08-17 23", "fwi": 6.2},
      {"model": "GFS 0.250°", "time": "2026-08-18 00", "fwi": 5.8},
      {"model": "GFS 0.250°", "time": "2026-08-18 01", "fwi": 5.6},
      {"model": "GFS 0.250°", "time": "2026-08-18 02", "fwi": 5.4},
      {"model": "GFS 0.250°", "time": "2026-08-18 03", "fwi": 5.3},
      {"model": "GFS 0.250°", "time": "2026-08-18 04", "fwi": 4.8},
      {"model": "GFS 0.250°", "time": "2026-08-18 05", "fwi": 3.9},
      {"model": "GFS 0.250°", "time": "2026-08-18 06", "fwi": 4.3},
      {"model": "GFS 0.250°", "time": "2026-08-18 07", "fwi": 4.6},
      {"model": "GFS 0.250°", "time": "2026-08-18 08", "fwi": 4.6},
      {"model": "GFS 0.250°", "time": "2026-08-18 09", "fwi": 5.0},
      {"model": "GFS 0.250°", "time": "2026-08-18 10", "fwi": 6.0},
      {"model": "GFS 0.250°", "time": "2026-08-18 11", "fwi": 7.5},
      {"model": "GFS 0.250°", "time": "2026-08-18 12", "fwi": 8.5},
      {"model": "GFS 0.250°", "time": "2026-08-18 13", "fwi": 12.7},
      {"model": "GFS 0.250°", "time": "2026-08-18 14", "fwi": 17.2},
      {"model": "GFS 0.250°", "time": "2026-08-18 15", "fwi": 21.3},
      {"model": "GFS 0.250°", "time": "2026-08-18 16", "fwi": 30.5},
      {"model": "GFS 0.250°", "time": "2026-08-18 17", "fwi": 30.5},
      {"model": "GFS 0.250°", "time": "2026-08-18 18", "fwi": 23.4},
      {"model": "GFS 0.250°", "time": "2026-08-18 19", "fwi": 13.3},
      {"model": "GFS 0.250°", "time": "2026-08-18 20", "fwi": 11.2},
      {"model": "GFS 0.250°", "time": "2026-08-18 21", "fwi": 8.5},
      {"model": "GFS 0.250°", "time": "2026-08-18 22", "fwi": 7.0},
      {"model": "GFS 0.250°", "time": "2026-08-18 23", "fwi": 7.5},
      {"model": "GFS 0.250°", "time": "2026-08-19 00", "fwi": 7.0},
      {"model": "GFS 0.250°", "time": "2026-08-19 01", "fwi": 7.5},
      {"model": "GFS 0.250°", "time": "2026-08-19 02", "fwi": 7.8},
      {"model": "GFS 0.250°", "time": "2026-08-19 03", "fwi": 8.2},
      {"model": "GFS 0.250°", "time": "2026-08-19 04", "fwi": 8.0},
      {"model": "GFS 0.250°", "time": "2026-08-19 05", "fwi": 8.5},
      {"model": "GFS 0.250°", "time": "2026-08-19 06", "fwi": 8.2},
      {"model": "GFS 0.250°", "time": "2026-08-19 07", "fwi": 8.0},
      {"model": "GFS 0.250°", "time": "2026-08-19 08", "fwi": 7.5},
      {"model": "GFS 0.250°", "time": "2026-08-19 09", "fwi": 6.8},
      {"model": "GFS 0.250°", "time": "2026-08-19 10", "fwi": 8.5},
      {"model": "GFS 0.250°", "time": "2026-08-19 11", "fwi": 11.2},
      {"model": "GFS 0.250°", "time": "2026-08-19 12", "fwi": 13.8},
      {"model": "GFS 0.250°", "time": "2026-08-19 13", "fwi": 20.1},
      {"model": "GFS 0.250°", "time": "2026-08-19 14", "fwi": 25.2},
      {"model": "GFS 0.250°", "time": "2026-08-19 15", "fwi": 32.1},
      {"model": "GFS 0.250°", "time": "2026-08-19 16", "fwi": 30.8},
      {"model": "GFS 0.250°", "time": "2026-08-19 17", "fwi": 27.1},
      {"model": "GFS 0.250°", "time": "2026-08-19 18", "fwi": 21.1},
      {"model": "GFS 0.250°", "time": "2026-08-19 19", "fwi": 11.9},
      {"model": "GFS 0.250°", "time": "2026-08-19 20", "fwi": 10.4},
      {"model": "GFS 0.250°", "time": "2026-08-19 21", "fwi": 10.2},
      {"model": "GFS 0.250°", "time": "2026-08-19 22", "fwi": 9.5},
      {"model": "GFS 0.250°", "time": "2026-08-19 23", "fwi": 8.2},
      {"model": "GFS 0.250°", "time": "2026-08-20 00", "fwi": 8.0},
      {"model": "GFS 0.250°", "time": "2026-08-20 01", "fwi": 8.0},
      {"model": "GFS 0.250°", "time": "2026-08-20 02", "fwi": 8.5},
      {"model": "GFS 0.250°", "time": "2026-08-20 03", "fwi": 8.7},
      {"model": "GFS 0.250°", "time": "2026-08-20 04", "fwi": 8.5},
      {"model": "GFS 0.250°", "time": "2026-08-20 05", "fwi": 8.4},
      {"model": "GFS 0.250°", "time": "2026-08-20 06", "fwi": 8.2},
      {"model": "GFS 0.250°", "time": "2026-08-20 07", "fwi": 7.5},
      {"model": "GFS 0.250°", "time": "2026-08-20 08", "fwi": 7.2},
      {"model": "GFS 0.250°", "time": "2026-08-20 09", "fwi": 6.8},
      {"model": "GFS 0.250°", "time": "2026-08-20 10", "fwi": 9.0},
      {"model": "GFS 0.250°", "time": "2026-08-20 11", "fwi": 10.1},
      {"model": "GFS 0.250°", "time": "2026-08-20 12", "fwi": 11.6},
      {"model": "GFS 0.250°", "time": "2026-08-20 13", "fwi": 17.2},
      {"model": "GFS 0.250°", "time": "2026-08-20 14", "fwi": 21.3},
      {"model": "GFS 0.250°", "time": "2026-08-20 15", "fwi": 30.3},
      {"model": "GFS 0.250°", "time": "2026-08-20 16", "fwi": 33.7},
      {"model": "GFS 0.250°", "time": "2026-08-20 17", "fwi": 31.5},
      {"model": "GFS 0.250°", "time": "2026-08-20 18", "fwi": 25.8},
      {"model": "GFS 0.250°", "time": "2026-08-20 19", "fwi": 13.8},
      {"model": "GFS 0.250°", "time": "2026-08-20 20", "fwi": 11.2},
      {"model": "GFS 0.250°", "time": "2026-08-20 21", "fwi": 10.2},
      {"model": "GFS 0.250°", "time": "2026-08-20 22", "fwi": 8.7},
      {"model": "GFS 0.250°", "time": "2026-08-20 23", "fwi": 8.0},
      {"model": "GFS 0.250°", "time": "2026-08-21 00", "fwi": 7.7},
      {"model": "GFS 0.250°", "time": "2026-08-21 01", "fwi": 7.8},
      {"model": "GFS 0.250°", "time": "2026-08-21 02", "fwi": 8.0},
      {"model": "GFS 0.250°", "time": "2026-08-21 03", "fwi": 8.0},
      {"model": "GFS 0.250°", "time": "2026-08-21 04", "fwi": 7.8},
      {"model": "GFS 0.250°", "time": "2026-08-21 05", "fwi": 7.7},
      {"model": "GFS 0.250°", "time": "2026-08-21 06", "fwi": 7.5},
      {"model": "GFS 0.250°", "time": "2026-08-21 07", "fwi": 7.3},
      {"model": "GFS 0.250°", "time": "2026-08-21 08", "fwi": 7.5},
      {"model": "GFS 0.250°", "time": "2026-08-21 09", "fwi": 11.2},
      {"model": "GFS 0.250°", "time": "2026-08-21 10", "fwi": 14.5},
      {"model": "GFS 0.250°", "time": "2026-08-21 11", "fwi": 18.4},
      {"model": "GFS 0.250°", "time": "2026-08-21 12", "fwi": 23.0},
      {"model": "GFS 0.250°", "time": "2026-08-21 13", "fwi": 27.4},
      {"model": "GFS 0.250°", "time": "2026-08-21 14", "fwi": 30.3},
      {"model": "GFS 0.250°", "time": "2026-08-21 15", "fwi": 32.5},
      {"model": "GFS 0.250°", "time": "2026-08-21 16", "fwi": 35.8},
      {"model": "GFS 0.250°", "time": "2026-08-21 17", "fwi": 35.9},
      {"model": "GFS 0.250°", "time": "2026-08-21 18", "fwi": 28.4},
      {"model": "GFS 0.250°", "time": "2026-08-21 19", "fwi": 17.9},
      {"model": "GFS 0.250°", "time": "2026-08-21 20", "fwi": 8.7},
      {"model": "GFS 0.250°", "time": "2026-08-21 21", "fwi": 9.0},
      {"model": "GFS 0.250°", "time": "2026-08-21 22", "fwi": 9.5},
      {"model": "GFS 0.250°", "time": "2026-08-21 23", "fwi": 8.8},
      {"model": "GFS 0.250°", "time": "2026-08-22 02", "fwi": 8.0},
      {"model": "GFS 0.250°", "time": "2026-08-22 05", "fwi": 6.8},
      {"model": "GFS 0.250°", "time": "2026-08-22 08", "fwi": 7.4},
      {"model": "GFS 0.250°", "time": "2026-08-22 11", "fwi": 24.2},
      {"model": "GFS 0.250°", "time": "2026-08-22 14", "fwi": 29.6},
      {"model": "GFS 0.250°", "time": "2026-08-22 17", "fwi": 31.5},
      {"model": "GFS 0.250°", "time": "2026-08-22 20", "fwi": 8.8},
      {"model": "GFS 0.250°", "time": "2026-08-22 23", "fwi": 7.7},
      {"model": "GFS 0.250°", "time": "2026-08-23 02", "fwi": 6.8},
      {"model": "GFS 0.250°", "time": "2026-08-23 05", "fwi": 5.4},
      {"model": "GFS 0.250°", "time": "2026-08-23 08", "fwi": 5.2},
      {"model": "GFS 0.250°", "time": "2026-08-23 11", "fwi": 12.8},
      {"model": "GFS 0.250°", "time": "2026-08-23 14", "fwi": 30.9},
      {"model": "GFS 0.250°", "time": "2026-08-23 17", "fwi": 32.6},
      {"model": "GFS 0.250°", "time": "2026-08-23 20", "fwi": 7.5},
      {"model": "GFS 0.250°", "time": "2026-08-23 23", "fwi": 7.3},
      {"model": "GFS 0.250°", "time": "2026-08-24 02", "fwi": 5.8},
      {"model": "GFS 0.250°", "time": "2026-08-24 05", "fwi": 4.5},
      {"model": "GFS 0.250°", "time": "2026-08-24 08", "fwi": 4.0},
      {"model": "GFS 0.250°", "time": "2026-08-24 11", "fwi": 8.1},
      {"model": "GFS 0.250°", "time": "2026-08-24 14", "fwi": 23.3},
      {"model": "GFS 0.250°", "time": "2026-08-24 17", "fwi": 28.6},
      {"model": "GFS 0.250°", "time": "2026-08-24 20", "fwi": 3.1},
      {"model": "GFS 0.250°", "time": "2026-08-24 23", "fwi": 5.7},

      {"model": "NBM", "time": "2026-08-16 23", "fwi": 1.9},
      {"model": "NBM", "time": "2026-08-17 00", "fwi": 1.8},
      {"model": "NBM", "time": "2026-08-17 01", "fwi": 1.7},
      {"model": "NBM", "time": "2026-08-17 02", "fwi": 1.7},
      {"model": "NBM", "time": "2026-08-17 03", "fwi": 1.8},
      {"model": "NBM", "time": "2026-08-17 04", "fwi": 1.6},
      {"model": "NBM", "time": "2026-08-17 05", "fwi": 1.7},
      {"model": "NBM", "time": "2026-08-17 06", "fwi": 1.8},
      {"model": "NBM", "time": "2026-08-17 07", "fwi": 2.0},
      {"model": "NBM", "time": "2026-08-17 08", "fwi": 2.4},
      {"model": "NBM", "time": "2026-08-17 09", "fwi": 3.9},
      {"model": "NBM", "time": "2026-08-17 10", "fwi": 5.8},
      {"model": "NBM", "time": "2026-08-17 11", "fwi": 8.5},
      {"model": "NBM", "time": "2026-08-17 12", "fwi": 11.4},
      {"model": "NBM", "time": "2026-08-17 13", "fwi": 14.5},
      {"model": "NBM", "time": "2026-08-17 14", "fwi": 17.2},
      {"model": "NBM", "time": "2026-08-17 15", "fwi": 18.2},
      {"model": "NBM", "time": "2026-08-17 16", "fwi": 18.2},
      {"model": "NBM", "time": "2026-08-17 17", "fwi": 17.5},
      {"model": "NBM", "time": "2026-08-17 18", "fwi": 14.0},
      {"model": "NBM", "time": "2026-08-17 19", "fwi": 9.9},
      {"model": "NBM", "time": "2026-08-17 20", "fwi": 6.0},
      {"model": "NBM", "time": "2026-08-17 21", "fwi": 4.6},
      {"model": "NBM", "time": "2026-08-17 22", "fwi": 3.4},
      {"model": "NBM", "time": "2026-08-17 23", "fwi": 2.9},
      {"model": "NBM", "time": "2026-08-18 00", "fwi": 2.5},
      {"model": "NBM", "time": "2026-08-18 01", "fwi": 2.2},
      {"model": "NBM", "time": "2026-08-18 02", "fwi": 2.0},
      {"model": "NBM", "time": "2026-08-18 03", "fwi": 1.9},
      {"model": "NBM", "time": "2026-08-18 04", "fwi": 1.8},
      {"model": "NBM", "time": "2026-08-18 05", "fwi": 1.7},
      {"model": "NBM", "time": "2026-08-18 06", "fwi": 1.6},
      {"model": "NBM", "time": "2026-08-18 07", "fwi": 1.5},
      {"model": "NBM", "time": "2026-08-18 08", "fwi": 1.9},
      {"model": "NBM", "time": "2026-08-18 09", "fwi": 2.7},
      {"model": "NBM", "time": "2026-08-18 10", "fwi": 3.6},
      {"model": "NBM", "time": "2026-08-18 11", "fwi": 4.6},
      {"model": "NBM", "time": "2026-08-18 14", "fwi": 15.3},
      {"model": "NBM", "time": "2026-08-18 17", "fwi": 16.2},
      {"model": "NBM", "time": "2026-08-18 20", "fwi": 4.1},
      {"model": "NBM", "time": "2026-08-18 23", "fwi": 2.3},
      {"model": "NBM", "time": "2026-08-19 02", "fwi": 1.8},
      {"model": "NBM", "time": "2026-08-19 05", "fwi": 1.8},
      {"model": "NBM", "time": "2026-08-19 08", "fwi": 3.1},
      {"model": "NBM", "time": "2026-08-19 11", "fwi": 6.0},
      {"model": "NBM", "time": "2026-08-19 14", "fwi": 17.2},
      {"model": "NBM", "time": "2026-08-19 17", "fwi": 17.5},
      {"model": "NBM", "time": "2026-08-19 20", "fwi": 5.9},
      {"model": "NBM", "time": "2026-08-19 23", "fwi": 5.3},
      {"model": "NBM", "time": "2026-08-20 02", "fwi": 3.9},
      {"model": "NBM", "time": "2026-08-20 05", "fwi": 3.6},
      {"model": "NBM", "time": "2026-08-20 08", "fwi": 4.6},
      {"model": "NBM", "time": "2026-08-20 11", "fwi": 8.8},
      {"model": "NBM", "time": "2026-08-20 14", "fwi": 19.0},
      {"model": "NBM", "time": "2026-08-20 17", "fwi": 18.5},
      {"model": "NBM", "time": "2026-08-20 20", "fwi": 5.8},
      {"model": "NBM", "time": "2026-08-20 23", "fwi": 7.4},
      {"model": "NBM", "time": "2026-08-21 02", "fwi": 4.0},
      {"model": "NBM", "time": "2026-08-21 05", "fwi": 3.5},
      {"model": "NBM", "time": "2026-08-21 08", "fwi": 4.6},
      {"model": "NBM", "time": "2026-08-21 11", "fwi": 15.3},
      {"model": "NBM", "time": "2026-08-21 14", "fwi": 23.4},
      {"model": "NBM", "time": "2026-08-21 17", "fwi": 21.3},
      {"model": "NBM", "time": "2026-08-21 20", "fwi": 11.0},
      {"model": "NBM", "time": "2026-08-21 23", "fwi": 9.0},
      {"model": "NBM", "time": "2026-08-22 02", "fwi": 4.9},
      {"model": "NBM", "time": "2026-08-22 05", "fwi": 3.0},
      {"model": "NBM", "time": "2026-08-22 08", "fwi": 4.6},
      {"model": "NBM", "time": "2026-08-22 11", "fwi": 14.9},
      {"model": "NBM", "time": "2026-08-22 14", "fwi": 22.1},
      {"model": "NBM", "time": "2026-08-22 17", "fwi": 19.2},
      {"model": "NBM", "time": "2026-08-22 20", "fwi": 7.5},
      {"model": "NBM", "time": "2026-08-22 23", "fwi": 2.9},
      {"model": "NBM", "time": "2026-08-23 02", "fwi": 1.6},
      {"model": "NBM", "time": "2026-08-23 05", "fwi": 1.2},
      {"model": "NBM", "time": "2026-08-23 08", "fwi": 2.4},
      {"model": "NBM", "time": "2026-08-23 11", "fwi": 8.2},
      {"model": "NBM", "time": "2026-08-23 14", "fwi": 16.4},
      {"model": "NBM", "time": "2026-08-23 17", "fwi": 16.6},
      {"model": "NBM", "time": "2026-08-23 20", "fwi": 6.4},
      {"model": "NBM", "time": "2026-08-23 23", "fwi": 2.8},
      {"model": "NBM", "time": "2026-08-24 02", "fwi": 1.7},
      {"model": "NBM", "time": "2026-08-24 05", "fwi": 1.6},
      {"model": "NBM", "time": "2026-08-24 08", "fwi": 2.3},
      {"model": "NBM", "time": "2026-08-24 11", "fwi": 7.1},
      {"model": "NBM", "time": "2026-08-24 14", "fwi": 14.5},
      {"model": "NBM", "time": "2026-08-24 17", "fwi": 15.3},
      {"model": "NBM", "time": "2026-08-24 20", "fwi": 6.6},
      {"model": "NBM", "time": "2026-08-24 23", "fwi": 3.3}
    ]
  },
  "layer": [
    {
      "mark": {"type": "point", "filled": true, "opacity": 1},
      "encoding": {
        "x": {
          "field": "time",
          "type": "temporal",
          "scale": {
            "type": "utc",
            "domain": [
              {"year": 2026, "month": 8, "date": 16, "utc": true},
              {"year": 2026, "month": 8, "date": 25, "utc": true}
            ]
          },
          "axis": {
            "title": "Date",
            "format": "%m/%d",
            "tickCount": {"interval": "day", "step": 1},
            "labelPadding": 26,
            "labelFlush": false,
            "labelOverlap": false,
            "titlePadding": 20
          }
        },
        "y": {
          "field": "fwi",
          "type": "quantitative",
          "scale": {"domain": [0, 120], "nice": false},
          "axis": {
            "title": "Fosberg Fire Weather Index (-)",
            "values": [0, 20, 40, 60, 80, 100, 120],
            "labelPadding": 26,
            "titlePadding": 26
          }
        },
        "color": {
          "field": "model",
          "type": "nominal",
          "scale": {
            "domain": ["ECMWF", "HRRR", "NAM 3 km", "NAM 12 km", "GFS 0.125°", "GFS 0.250°", "NBM"],
            "range": ["#0000cd", "#006400", "#ff0000", "#000000", "#c0c0c0", "#87ceeb", "#ffa500"]
          },
          "legend": {"title": null}
        },
        "shape": {
          "field": "model",
          "type": "nominal",
          "scale": {
            "domain": ["ECMWF", "HRRR", "NAM 3 km", "NAM 12 km", "GFS 0.125°", "GFS 0.250°", "NBM"],
            "range": [
              "square",
              "circle",
              "triangle-up",
              "triangle-down",
              "diamond",
              "M0,-1L0.951,-0.309L0.588,0.809L-0.588,0.809L-0.951,-0.309Z",
              "M-1,-0.12L1,-0.12L1,0.12L-1,0.12ZM-0.12,-1L0.12,-1L0.12,1L-0.12,1ZM-0.622,-0.792L0.792,0.622L0.622,0.792L-0.792,-0.622ZM-0.792,0.622L0.622,-0.792L0.792,-0.622L-0.622,0.792Z"
            ]
          },
          "legend": {"title": null}
        },
        "size": {
          "field": "model",
          "type": "nominal",
          "scale": {
            "domain": ["ECMWF", "HRRR", "NAM 3 km", "NAM 12 km", "GFS 0.125°", "GFS 0.250°", "NBM"],
            "range": [100, 115, 110, 110, 110, 150, 190]
          },
          "legend": null
        }
      }
    },
    {
      "data": {
        "format": {"parse": {"time": "utc:'%Y-%m-%d %H'"}},
        "values": [{"time": "2026-08-20 00", "fwi": 60}]
      },
      "mark": {"type": "rule", "opacity": 0},
      "encoding": {
        "x": {
          "field": "time",
          "type": "temporal",
          "axis": {"orient": "top", "labels": false, "title": null, "tickCount": {"interval": "day", "step": 1}}
        },
        "y": {
          "field": "fwi",
          "type": "quantitative",
          "axis": {"orient": "right", "labels": false, "title": null, "values": [0, 20, 40, 60, 80, 100, 120]}
        }
      }
    }
  ]
}
